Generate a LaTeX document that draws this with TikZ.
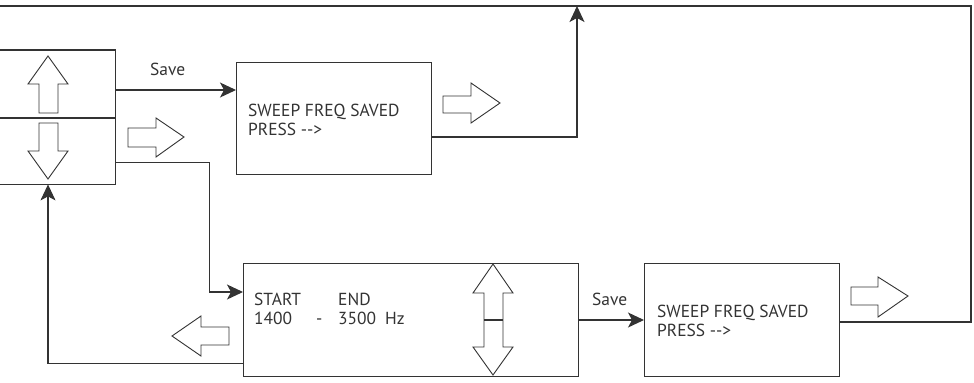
\documentclass[tikz,border=0pt]{standalone}
\usepackage{fontspec}
\setmainfont{PT Sans}
\usetikzlibrary{arrows.meta,calc}
\definecolor{ink}{HTML}{333333}
\begin{document}
\begin{tikzpicture}[x=1bp,y=-1bp,
  every node/.style={font=\fontsize{17.5}{21}\selectfont, text=ink},
  box/.style={draw=ink, line width=1.3bp, rectangle, inner sep=0, anchor=north west},
  conn/.style={draw=ink, line width=1.1bp},
  arr/.style={conn, -{Stealth[length=16bp,width=15bp,inset=4bp]}},
  hollow/.style={draw=ink, line width=0.9bp, fill=white, line join=miter},
  lbl/.style={anchor=base west, inner sep=0}]
\useasboundingbox (0,0) rectangle (974,382);
% boxes
\node[box, minimum width=195bp, minimum height=112bp] (s1) at (236,62) {};
\node[box, minimum width=335bp, minimum height=113bp] (bb) at (243,263) {};
\node[box, minimum width=195bp, minimum height=113bp] (s2) at (644,263) {};
\node[rectangle, inner sep=0, minimum width=115bp, minimum height=134bp, anchor=north west] (lb) at (0,50) {};
\draw[draw=ink, line width=1.3bp] (lb.north west) -- (lb.north east) -- (lb.south east) -- (lb.south west);
\draw[draw=ink, line width=2bp] ([shift={(0,1)}]lb.west) -- ([shift={(0,1)}]lb.east);
% texts
\node[lbl] (t1a) at (248,116) {SWEEP FREQ SAVED};
\node[lbl] (t1b) at (248,135) {PRESS -{}-{}>};
\node[lbl] (sv1) at (150,75) {Save};
\node[lbl] (sv2) at (592,305) {Save};
\node[lbl] (st) at (254,305) {START};
\node[lbl] (en) at (338,305) {END};
\node[lbl] (f1) at (254,324) {1400};
\node[lbl] (dash) at (316,324) {-};
\node[lbl] (f2) at (338,324) {3500};
\node[lbl] (hz) at (385,324) {Hz};
\node[lbl] (t2a) at (657,317) {SWEEP FREQ SAVED};
\node[lbl] (t2b) at (657,336) {PRESS -{}-{}>};
% coordinates
\coordinate (top1) at (577,6);
\coordinate (rc) at (971,6);
\coordinate (endc) at (0,6);
% connectors
\draw[arr] ([shift={(0,40)}]lb.north east) -- ([shift={(0,28)}]s1.north west);
\draw[arr] ([shift={(0,75)}]s1.north east) -| (top1);
\draw[arr] ([shift={(0,-22)}]lb.south east) -- ++(94,0) |- ([shift={(0,29)}]bb.north west);
\draw[arr] ([shift={(0,-14)}]bb.south west) -| ([shift={(48,0)}]lb.south west);
\draw[arr] ([shift={(0,57)}]bb.north east) -- ([shift={(0,57)}]s2.north west);
\draw[conn] ([shift={(0,59)}]s2.north east) -| (rc) -- (endc);
% hollow arrows
\draw[hollow] (48,56) -- (68,84) -- (58,84) -- (58,113) -- (39,113) -- (39,84) -- (28,84) -- cycle;
\draw[hollow] (48,179) -- (68,151) -- (58,151) -- (58,123) -- (39,123) -- (39,151) -- (28,151) -- cycle;
\draw[hollow] (184,137) -- (156,157) -- (156,147) -- (128,147) -- (128,128) -- (156,128) -- (156,118) -- cycle;
\draw[hollow] (500,103) -- (471,123) -- (471,113) -- (443,113) -- (443,96) -- (471,96) -- (471,83) -- cycle;
\draw[hollow] (172,336) -- (201,316) -- (201,327) -- (229,327) -- (229,345) -- (201,345) -- (201,356) -- cycle;
\draw[hollow] (908,296) -- (878,317) -- (878,305) -- (851,305) -- (851,287) -- (878,287) -- (878,277) -- cycle;
\draw[hollow] (493,264) -- (513,293) -- (503,293) -- (503,347) -- (513,347) -- (493,375) -- (473,347) -- (484,347) -- (484,293) -- (473,293) -- cycle;
\draw[draw=ink, line width=1.6bp] (484,320) -- (503,320);
\end{tikzpicture}
\end{document}
